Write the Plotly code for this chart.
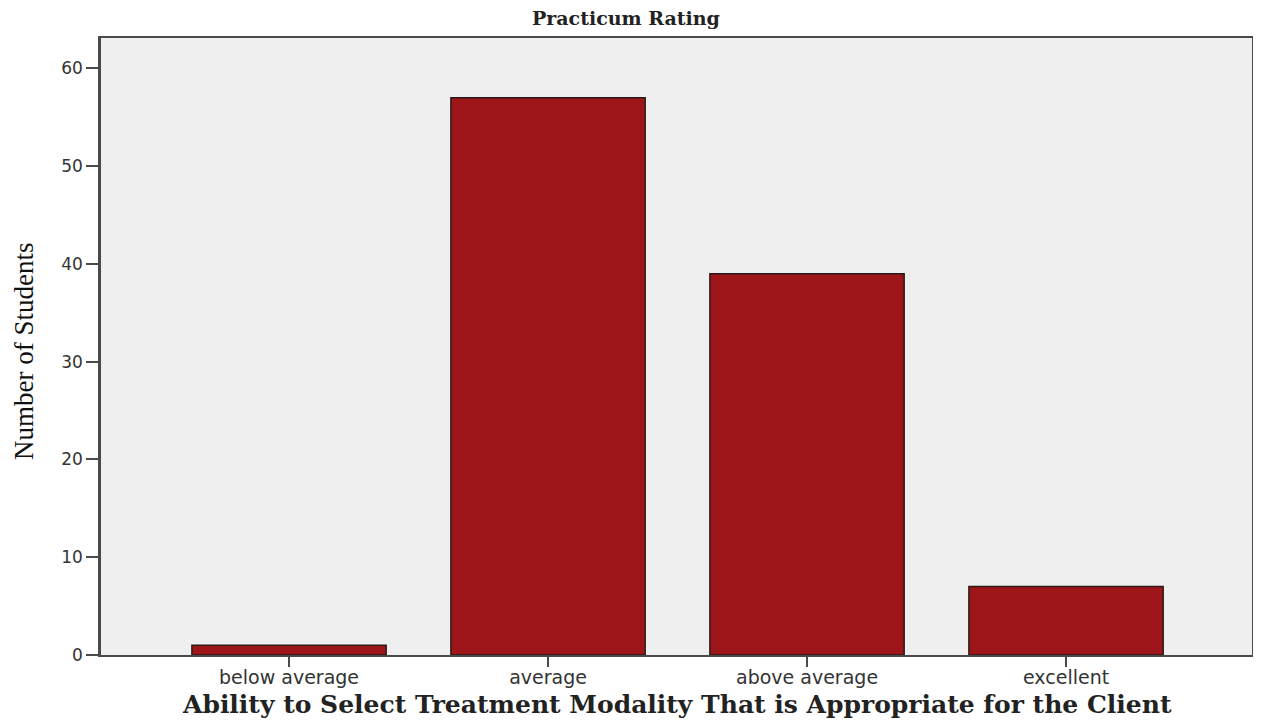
import plotly.graph_objects as go

# Data
RATINGS = ["below average", "average", "above average", "excellent"]
STUDENTS = [1, 57, 39, 7]
Y_TICKS = [0, 10, 20, 30, 40, 50, 60]

BAR_COLOR = "#9E161A"
PLOT_BG = "#EFEFEF"
AXIS_COLOR = "#4A4A4A"

fig = go.Figure()

fig.add_trace(
    go.Bar(
        x=RATINGS,
        y=STUDENTS,
        marker_color=BAR_COLOR,
        marker_line_color="#2A1A1A",
        marker_line_width=1.5,
    )
)

# La pagina tiene 8px de margen en el body, asi que lo compensamos aqui.
fig.update_layout(
    width=1253,
    height=713,
    paper_bgcolor="#FFFFFF",
    plot_bgcolor=PLOT_BG,
    bargap=0.25,
    showlegend=False,
    margin=dict(l=93, r=9, t=30, b=66),
    font=dict(family="DejaVu Sans", color="#333333"),
    annotations=[
        # titulo superior
        dict(
            text="<b>Practicum Rating</b>",
            xref="paper", yref="paper",
            x=0.456, y=1.0324,
            xanchor="center", yanchor="middle",
            borderpad=0,
            showarrow=False,
            font=dict(family="DejaVu Serif", size=19, color="#222222"),
        ),
        # titulo del eje x
        dict(
            text="<b>Ability to Select Treatment Modality That is Appropriate for the Client</b>",
            xref="paper", yref="paper",
            x=0.5, y=-0.0810,
            xanchor="center", yanchor="middle",
            showarrow=False,
            font=dict(family="DejaVu Serif", size=25, color="#222222"),
        ),
        # titulo del eje y
        dict(
            text="Number of Students",
            xref="paper", yref="paper",
            x=-0.0669, y=0.4927,
            xanchor="center", yanchor="middle",
            textangle=-90,
            showarrow=False,
            font=dict(family="Liberation Serif", size=27, color="#111111"),
        ),
    ],
)

fig.update_xaxes(
    range=[-0.726, 3.718],
    automargin=False,
    showline=True,
    linecolor=AXIS_COLOR,
    linewidth=2,
    mirror=True,
    ticks="outside",
    ticklen=10,
    tickwidth=2,
    tickcolor=AXIS_COLOR,
    ticklabelstandoff=-6,
    showgrid=False,
    tickfont=dict(family="DejaVu Sans", size=19, color="#333333"),
)

fig.update_yaxes(
    range=[0, 63.1],
    tickvals=Y_TICKS,
    automargin=False,
    showline=True,
    linecolor=AXIS_COLOR,
    linewidth=2.5,
    mirror=True,
    ticks="outside",
    ticklen=12,
    tickwidth=2,
    tickcolor=AXIS_COLOR,
    showgrid=False,
    zeroline=False,
    tickfont=dict(family="DejaVu Sans", size=17, color="#333333"),
)

fig.write_html("out.html")
